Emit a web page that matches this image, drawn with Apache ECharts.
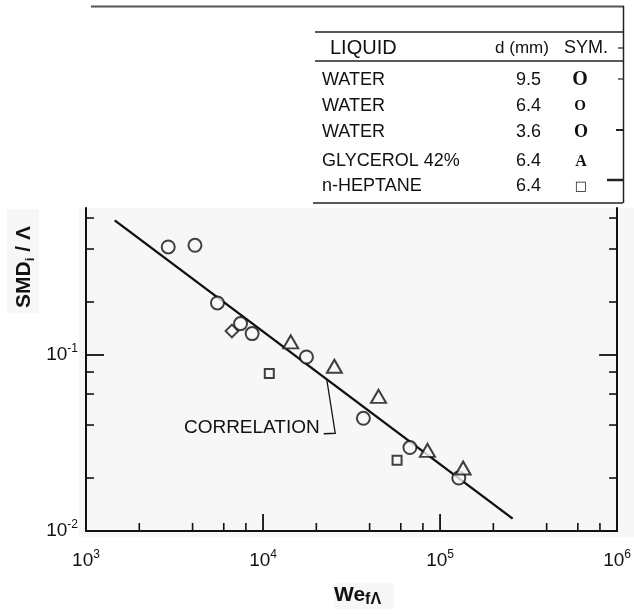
<!DOCTYPE html>
<html>
<head>
<meta charset="utf-8">
<script src="https://cdn.jsdelivr.net/npm/echarts@6/dist/echarts.min.js"></script>
<style>
html,body{margin:0;padding:0;background:#fff;}
#chart{width:634px;height:614px;}
</style>
</head>
<body>
<div id="chart"></div>
<script>
// ---- data ----
const waterX = [2914, 4126, 5528, 7465, 8680, 17585, 36890, 67580, 127600];
const waterY = [0.411, 0.420, 0.1975, 0.1508, 0.1323, 0.0974, 0.0437, 0.0298, 0.0200];
const glycerolX = [14340, 25290, 44920, 84920, 135000];
const glycerolY = [0.1186, 0.0863, 0.0582, 0.0287, 0.0228];
const heptaneX = [10850, 57160];
const heptaneY = [0.0784, 0.0252];
const diamondX = [6672];
const diamondY = [0.1369];
const corrX = [1453, 257000];
const corrY = [0.582, 0.01176];
const leaderX = 22900;

const X_MIN = 1000, X_MAX = 1000000;
const Y_MIN = 0.01, Y_MAX = 0.684;
const xMinorTicks = [2000, 4000, 6000, 8000, 20000, 40000, 60000, 80000, 200000, 400000, 600000, 800000];
const xMajorTicks = [10000, 100000];
const yMinorTicks = [0.02, 0.04, 0.06, 0.08, 0.2, 0.4, 0.6];
const yMajorTicks = [0.1];

const legendRows = [
  ['WATER', '9.5'],
  ['WATER', '6.4'],
  ['WATER', '3.6'],
  ['GLYCEROL 42%', '6.4'],
  ['n-HEPTANE', '6.4']
];

// ---- helpers ----
const zip = (a, b) => a.map((v, i) => [v, b[i]]);
const INK = '#111';
const BG = '#f7f7f7';
const SANS = '"Liberation Sans", Arial, sans-serif';
const SERIF = '"Liberation Serif", "DejaVu Serif", serif';

function powLabel(v) {
  const l = Math.log10(v);
  const e = Math.round(l);
  if (Math.abs(l - e) > 1e-6) return '';
  return '{b|10}{s|' + e + '}';
}
const labelRich = {
  b: { fontSize: 19, fontFamily: SANS, color: INK, lineHeight: 24 },
  s: { fontSize: 12, fontFamily: SANS, color: INK, lineHeight: 12, verticalAlign: 'top' }
};

function tickSeries(items, side, len, w) {
  return {
    type: 'custom', silent: true, z: 5, clip: false,
    data: items,
    renderItem: (params, api) => {
      const p = api.coord([api.value(0), api.value(1)]);
      let x2 = p[0], y2 = p[1];
      if (side === 'bottom') y2 = p[1] - len;
      else if (side === 'left') x2 = p[0] + len;
      else x2 = p[0] - len;
      return { type: 'line', shape: { x1: p[0], y1: p[1], x2: x2, y2: y2 }, style: { stroke: INK, lineWidth: w } };
    }
  };
}

// value of correlation line at leaderX (log-log straight line)
const lx0 = Math.log10(corrX[0]), lx1 = Math.log10(corrX[1]);
const ly0 = Math.log10(corrY[0]), ly1 = Math.log10(corrY[1]);
const leaderY = Math.pow(10, ly0 + (Math.log10(leaderX) - lx0) / (lx1 - lx0) * (ly1 - ly0));

const graphics = [];
// scanned background areas
graphics.push({ type: 'rect', z: -10, shape: { x: 79, y: 208, width: 555, height: 329 }, style: { fill: BG } });
graphics.push({ type: 'rect', z: -10, shape: { x: 7, y: 209, width: 32, height: 104 }, style: { fill: BG } });
graphics.push({ type: 'rect', z: -10, shape: { x: 334, y: 583, width: 60, height: 26 }, style: { fill: BG } });
// top frame / table lines
const L = (x1, y1, x2, y2, w, c) => graphics.push({ type: 'line', shape: { x1, y1, x2, y2 }, style: { stroke: c || '#222', lineWidth: w } });
L(91, 6.5, 624, 6.5, 2, '#555');
L(623.5, 6, 623.5, 203, 1.5);
L(315, 32, 623, 32, 1.5);
L(315, 61, 623, 61, 1.5);
L(313, 203, 623, 203, 1.5);
L(618, 48, 623, 48, 1.2);
L(618, 79, 623, 79, 1.2);
L(616, 130, 623, 130, 2);
L(607, 180, 623, 180, 2.5);
// table header
const T = (text, x, y, size, align, extra) => graphics.push(Object.assign({
  type: 'text', x, y,
  style: Object.assign({ text, fontSize: size, fontFamily: SANS, fill: INK, align: align || 'left', verticalAlign: 'middle' }, extra || {})
}));
T('LIQUID', 330, 48, 20);
T('d (mm)', 522, 48, 17, 'center');
T('SYM.', 586, 48, 18, 'center');
const rowY = [80, 106.5, 132.5, 161.5, 186.5];
legendRows.forEach((r, i) => {
  T(r[0], 322, rowY[i], 18);
  T(r[1], 541, rowY[i], 18, 'right');
});
// symbol column
T('O', 580, rowY[0], 20, 'center', { fontFamily: SERIF, fontWeight: 'bold' });
T('O', 580, rowY[1], 15, 'center', { fontFamily: SERIF, fontWeight: 'bold' });
T('O', 581, rowY[2], 18, 'center', { fontFamily: SERIF, fontWeight: 'bold' });
T('A', 581, rowY[3], 16, 'center', { fontFamily: SERIF, fontWeight: 'bold' });
T('\u25A1', 581, rowY[4], 13, 'center', { fontFamily: '"DejaVu Sans", sans-serif' });
// axis titles
graphics.push({
  type: 'text', x: 24, y: 267, rotation: Math.PI / 2,
  style: {
    text: '{a|SMD}{s|i}{a| / \u039B}', align: 'center', verticalAlign: 'middle',
    rich: {
      a: { fontSize: 21, fontWeight: 'bold', fontFamily: SANS, fill: INK, lineHeight: 26 },
      s: { fontSize: 13, fontWeight: 'bold', fontFamily: SANS, fill: INK, lineHeight: 14, verticalAlign: 'bottom' }
    }
  }
});
graphics.push({
  type: 'text', x: 334, y: 595,
  style: {
    text: '{a|We}{s|f\u039B}', align: 'left', verticalAlign: 'middle',
    rich: {
      a: { fontSize: 21, fontWeight: 'bold', fontFamily: SANS, fill: INK, lineHeight: 26 },
      s: { fontSize: 16, fontWeight: 'bold', fontFamily: SANS, fill: INK, lineHeight: 16, verticalAlign: 'bottom' }
    }
  }
});

const markerStyle = { color: BG, borderColor: INK, borderWidth: 2 };

const option = {
  animation: false,
  backgroundColor: '#fff',
  grid: { left: 86, right: 12, top: 208, bottom: 83 },
  xAxis: {
    type: 'log', logBase: 10, min: X_MIN, max: X_MAX,
    axisLine: { show: true, lineStyle: { color: INK, width: 2 } },
    axisTick: { show: false }, splitLine: { show: false },
    axisLabel: { formatter: powLabel, rich: labelRich, margin: 18, showMinLabel: true, showMaxLabel: true, hideOverlap: false }
  },
  yAxis: [{
    type: 'log', logBase: 10, min: Y_MIN, max: Y_MAX,
    axisLine: { show: true, lineStyle: { color: INK, width: 2 } },
    axisTick: { show: false }, splitLine: { show: false },
    axisLabel: { formatter: powLabel, rich: labelRich, margin: 8, showMinLabel: true, showMaxLabel: false }
  }, {
    type: 'log', logBase: 10, min: Y_MIN, max: Y_MAX, position: 'right',
    axisLine: { show: true, lineStyle: { color: INK, width: 2 } },
    axisTick: { show: false }, splitLine: { show: false }, axisLabel: { show: false }
  }],
  graphic: graphics,
  series: [
    {
      name: 'CORRELATION', type: 'line', data: zip(corrX, corrY), symbol: 'none',
      lineStyle: { color: INK, width: 2.4 }, z: 2, silent: true
    },
    {
      name: 'CORRELATION label', type: 'custom', silent: true, z: 3, clip: false,
      data: [[leaderX, leaderY]],
      renderItem: (params, api) => {
        const p = api.coord([api.value(0), api.value(1)]);
        return {
          type: 'group', children: [
            { type: 'polyline', shape: { points: [[p[0], p[1]], [p[0] + 8.5, p[1] + 54], [p[0] - 3, p[1] + 54.5]] }, style: { stroke: INK, lineWidth: 1.3, fill: null } },
            { type: 'text', x: p[0] - 7, y: p[1] + 49, style: { text: 'CORRELATION', fontSize: 19, fontFamily: SANS, fill: INK, align: 'right', verticalAlign: 'middle' } }
          ]
        };
      }
    },
    tickSeries(xMinorTicks.map(v => [v, Y_MIN]), 'bottom', 8, 1.6),
    tickSeries(xMajorTicks.map(v => [v, Y_MIN]), 'bottom', 17, 1.8),
    tickSeries(yMinorTicks.map(v => [X_MIN, v]), 'left', 8, 1.6),
    tickSeries(yMajorTicks.map(v => [X_MIN, v]), 'left', 18, 1.8),
    tickSeries(yMinorTicks.map(v => [X_MAX, v]), 'right', 8, 1.6),
    tickSeries(yMajorTicks.map(v => [X_MAX, v]), 'right', 18, 1.8),
    { name: 'WATER', type: 'scatter', data: zip(waterX, waterY), symbol: 'circle', symbolSize: 13, itemStyle: markerStyle, z: 4 },
    { name: 'GLYCEROL 42%', type: 'scatter', data: zip(glycerolX, glycerolY), symbol: 'triangle', symbolSize: [15, 13], itemStyle: markerStyle, z: 4 },
    { name: 'n-HEPTANE', type: 'scatter', data: zip(heptaneX, heptaneY), symbol: 'rect', symbolSize: 9, itemStyle: markerStyle, z: 4 },
    { name: 'diamond', type: 'scatter', data: zip(diamondX, diamondY), symbol: 'rect', symbolSize: 9, symbolRotate: 45, itemStyle: markerStyle, z: 4 }
  ]
};

const chart = echarts.init(document.getElementById('chart'), null, { renderer: 'canvas' });
chart.setOption(option);
</script>
</body>
</html>
